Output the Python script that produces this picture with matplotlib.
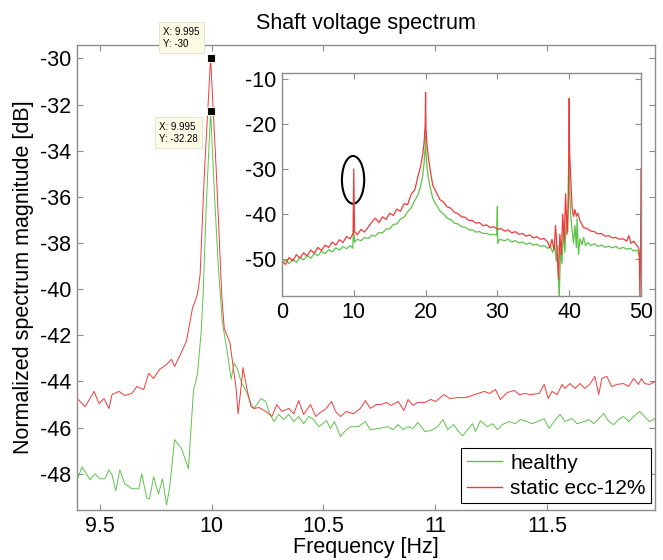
import matplotlib
matplotlib.use("Agg")
import matplotlib.pyplot as plt
from matplotlib.lines import Line2D
from matplotlib.patches import Ellipse

plt.rcParams['font.family'] = ['Liberation Sans', 'DejaVu Sans']
plt.rcParams['axes.unicode_minus'] = False

# zoomed view around 10 Hz: (frequency [Hz], magnitude [dB])
healthy_zoom = [
    (9.398, -48.26), (9.420, -47.70), (9.456, -48.26), (9.478, -48.00), (9.500, -48.22),
    (9.522, -48.22), (9.540, -47.83), (9.554, -48.04), (9.571, -48.74), (9.589, -47.83),
    (9.611, -48.43), (9.642, -48.65), (9.674, -48.65), (9.687, -48.00), (9.709, -49.04),
    (9.722, -49.09), (9.740, -48.13), (9.762, -48.87), (9.780, -48.22), (9.798, -49.35),
    (9.811, -48.65), (9.834, -46.52), (9.865, -46.91), (9.896, -47.78), (9.918, -44.43),
    (9.936, -43.70), (9.953, -41.83), (9.962, -40.10), (9.975, -36.50), (9.995, -32.28),
    (10.012, -35.80), (10.028, -38.80), (10.047, -41.40), (10.069, -42.70), (10.087, -43.90),
    (10.100, -43.20), (10.114, -43.43), (10.131, -44.00), (10.154, -44.43), (10.176, -44.96),
    (10.189, -45.17), (10.202, -45.00), (10.220, -44.74), (10.242, -44.87), (10.256, -45.30),
    (10.278, -45.74), (10.300, -45.43), (10.322, -45.65), (10.345, -45.43), (10.367, -45.74),
    (10.389, -45.52), (10.411, -45.83), (10.434, -45.52), (10.456, -45.65), (10.478, -45.96),
    (10.491, -45.87), (10.514, -45.70), (10.531, -46.04), (10.549, -45.74), (10.576, -46.39),
    (10.598, -46.13), (10.620, -45.96), (10.656, -45.96), (10.687, -45.74), (10.709, -46.09),
    (10.745, -46.04), (10.789, -45.96), (10.811, -46.09), (10.834, -45.87), (10.856, -46.09),
    (10.878, -45.96), (10.900, -46.04), (10.922, -45.78), (10.954, -46.17), (10.980, -46.13),
    (11.011, -45.96), (11.034, -45.65), (11.056, -46.09), (11.082, -45.87), (11.105, -46.17),
    (11.122, -46.35), (11.145, -46.09), (11.167, -45.83), (11.180, -46.17), (11.202, -45.70),
    (11.233, -45.96), (11.256, -45.83), (11.278, -46.09), (11.300, -45.87), (11.331, -45.74),
    (11.358, -45.83), (11.380, -45.65), (11.411, -45.74), (11.434, -45.83), (11.456, -45.74),
    (11.487, -45.61), (11.509, -46.04), (11.531, -45.74), (11.558, -45.43), (11.580, -45.74),
    (11.611, -45.61), (11.634, -45.83), (11.665, -45.74), (11.687, -45.65), (11.709, -45.83),
    (11.731, -45.61), (11.754, -45.39), (11.776, -45.74), (11.798, -45.87), (11.820, -45.65),
    (11.842, -45.52), (11.865, -45.74), (11.887, -45.52), (11.914, -45.30), (11.936, -45.52),
    (11.958, -45.74), (11.985, -45.60),
]
ecc_zoom = [
    (9.398, -44.74), (9.434, -45.09), (9.474, -44.43), (9.496, -44.96), (9.518, -44.74),
    (9.540, -45.17), (9.554, -44.57), (9.585, -44.43), (9.611, -44.61), (9.642, -44.52),
    (9.665, -44.22), (9.696, -44.35), (9.718, -43.65), (9.740, -43.87), (9.767, -43.48),
    (9.798, -43.26), (9.820, -43.04), (9.834, -43.35), (9.856, -42.91), (9.887, -42.26),
    (9.914, -40.83), (9.936, -40.22), (9.948, -39.40), (9.967, -35.00), (9.995, -30.00),
    (10.021, -35.00), (10.045, -40.30), (10.056, -41.70), (10.082, -42.35), (10.091, -43.00),
    (10.109, -44.30), (10.118, -45.40), (10.132, -44.20), (10.140, -43.40), (10.158, -44.35),
    (10.176, -45.10), (10.189, -45.17), (10.211, -45.13), (10.242, -45.30), (10.269, -45.52),
    (10.291, -45.00), (10.314, -45.30), (10.345, -45.17), (10.367, -45.40), (10.389, -44.83),
    (10.411, -45.43), (10.442, -45.00), (10.465, -45.52), (10.478, -45.40), (10.509, -45.20),
    (10.536, -44.87), (10.554, -45.30), (10.576, -45.52), (10.602, -45.30), (10.634, -45.40),
    (10.665, -45.17), (10.687, -44.83), (10.709, -45.17), (10.736, -45.00), (10.758, -45.00),
    (10.780, -44.91), (10.802, -45.04), (10.834, -44.87), (10.860, -45.26), (10.878, -44.78),
    (10.900, -45.04), (10.922, -44.91), (10.954, -44.91), (10.980, -44.78), (11.002, -44.87),
    (11.038, -44.57), (11.065, -44.74), (11.100, -44.70), (11.136, -44.70), (11.176, -44.57),
    (11.220, -44.43), (11.242, -44.52), (11.269, -44.35), (11.291, -44.78), (11.322, -44.48),
    (11.354, -44.39), (11.376, -44.57), (11.402, -44.52), (11.425, -44.57), (11.465, -44.52),
    (11.487, -44.13), (11.505, -44.74), (11.522, -44.43), (11.545, -44.57), (11.567, -44.13),
    (11.580, -44.30), (11.602, -44.09), (11.625, -44.30), (11.647, -44.09), (11.669, -44.30),
    (11.691, -44.13), (11.714, -43.78), (11.731, -44.57), (11.745, -43.87), (11.767, -43.78),
    (11.789, -44.22), (11.811, -44.13), (11.842, -44.09), (11.865, -44.22), (11.887, -43.87),
    (11.909, -44.13), (11.922, -43.87), (11.936, -44.09), (11.958, -44.13), (11.985, -44.00),
]

# full band 0-50 Hz for the inset
healthy_full = [
    (0, -51.0), (0.5, -50.2), (1, -51.0), (1.5, -50.0), (2, -50.7), (2.5, -49.6), (3, -50.2),
    (3.5, -49.2), (4, -49.8), (4.5, -48.8), (5, -49.2), (5.5, -48.3), (6, -48.8), (6.5, -47.9),
    (7, -48.4), (7.5, -47.5), (8, -48.0), (8.5, -47.2), (9, -47.7), (9.5, -47.0), (9.85, -47.6),
    (10, -42.8), (10.1, -46.2), (10.5, -45.6), (11, -45.9), (11.5, -45.2), (12, -45.4),
    (12.5, -44.7), (13, -44.9), (13.5, -44.1), (14, -44.2), (14.5, -43.3), (15, -43.3),
    (15.5, -42.3), (16, -42.2), (16.5, -41.1), (17, -40.7), (17.5, -39.5), (18, -38.6),
    (18.5, -37.0), (19, -35.5), (19.3, -33.8), (19.6, -31.5), (19.8, -28.5), (19.95, -25.0),
    (20, -21.5), (20.05, -26.0), (20.2, -29.5), (20.4, -32.0), (20.7, -34.5), (21, -36.5),
    (21.5, -38.0), (22, -39.3), (22.5, -40.0), (23, -40.9), (23.5, -41.2), (24, -42.0),
    (24.5, -42.2), (25, -42.8), (25.5, -42.9), (26, -43.5), (26.5, -43.5), (27, -44.0),
    (27.5, -43.9), (28, -44.3), (28.5, -44.3), (29, -44.6), (29.5, -44.5), (29.9, -44.7),
    (30, -38.3), (30.05, -46.5), (30.3, -45.6), (31, -45.9), (31.5, -45.6), (32, -46.2),
    (32.5, -45.9), (33, -46.4), (33.5, -46.2), (34, -46.7), (34.5, -46.4), (35, -46.9),
    (35.5, -46.7), (36, -47.2), (36.5, -47.0), (37, -47.6), (37.4, -47.3), (37.7, -48.5),
    (38, -46.8), (38.2, -50.5), (38.4, -47.0), (38.6, -59.0), (38.8, -48.0), (39.0, -51.0),
    (39.2, -44.0), (39.4, -48.5), (39.6, -41.5), (39.8, -44.0), (39.95, -33.0), (40, -28.0),
    (40.05, -34.0), (40.2, -40.0), (40.4, -43.5), (40.6, -46.5), (40.8, -42.5), (41.0, -47.5),
    (41.1, -41.0), (41.3, -49.0), (41.5, -45.5), (41.8, -46.8), (42, -45.2), (42.3, -47.0),
    (42.6, -46.3), (43, -47.0), (43.5, -46.6), (44, -47.2), (44.5, -46.9), (45, -47.4),
    (45.5, -47.1), (46, -47.5), (46.5, -47.2), (47, -47.7), (47.5, -47.4), (48, -47.8),
    (48.5, -47.6), (49, -48.2), (49.5, -48.0), (49.8, -49.5), (49.95, -48.5), (50, -40.5),
]
ecc_full = [
    (0, -23.0), (0.05, -50.5), (0.5, -51.2), (1, -49.6), (1.5, -50.4), (2, -49.0), (2.5, -49.8),
    (3, -48.6), (3.5, -49.3), (4, -48.0), (4.5, -48.7), (5, -47.4), (5.5, -48.1), (6, -46.9),
    (6.5, -47.4), (7, -46.2), (7.5, -46.9), (8, -45.7), (8.5, -46.3), (9, -45.0), (9.5, -45.5),
    (9.9, -44.3), (10, -30.0), (10.1, -43.8), (10.5, -44.6), (11, -43.4), (11.5, -44.0),
    (12, -42.9), (12.5, -41.8), (13, -40.9), (13.5, -41.9), (14, -40.6), (14.5, -41.2),
    (15, -39.8), (15.5, -40.3), (16, -38.9), (16.5, -39.4), (17, -37.7), (17.5, -37.9),
    (18, -35.6), (18.5, -34.6), (19, -31.2), (19.3, -29.5), (19.6, -26.8), (19.8, -24.0),
    (19.95, -20.0), (20, -13.0), (20.05, -21.0), (20.2, -24.5), (20.4, -27.5), (20.7, -30.8),
    (21, -33.6), (21.5, -35.2), (22, -36.8), (22.5, -37.3), (23, -38.4), (23.5, -38.7),
    (24, -39.6), (24.5, -39.9), (25, -40.6), (25.5, -40.7), (26, -41.4), (26.5, -41.4),
    (27, -42.0), (27.5, -41.9), (28, -42.6), (28.5, -42.4), (29, -43.0), (29.5, -42.8),
    (30, -43.4), (30.5, -43.2), (31, -43.8), (31.5, -43.5), (32, -44.2), (32.5, -43.9),
    (33, -44.5), (33.5, -44.3), (34, -44.9), (34.5, -44.6), (35, -45.3), (35.5, -45.0),
    (36, -45.6), (36.5, -45.4), (37, -46.2), (37.3, -47.5), (37.6, -45.6), (37.9, -48.0),
    (38.1, -42.5), (38.3, -47.8), (38.5, -54.5), (38.7, -44.5), (38.9, -49.0), (39.1, -40.0),
    (39.3, -46.0), (39.5, -35.5), (39.7, -44.5), (39.85, -38.0), (39.95, -25.0), (40, -14.3),
    (40.05, -26.0), (40.2, -31.5), (40.4, -38.5), (40.6, -40.5), (40.8, -39.0), (41, -40.5),
    (41.2, -39.8), (41.5, -41.5), (42, -43.0), (42.5, -43.2), (43, -43.8), (43.5, -43.9),
    (44, -44.4), (44.5, -44.3), (45, -44.9), (45.5, -44.8), (46, -45.3), (46.5, -45.2),
    (47, -45.6), (47.5, -45.5), (48, -46.0), (48.3, -44.8), (48.6, -46.5), (49, -46.0),
    (49.3, -46.8), (49.6, -47.3), (49.75, -48.0), (49.85, -58.5), (49.95, -48.5), (50, -30.0),
]

series_labels = ["healthy", "static ecc-12%"]
zoom_xticks = [9.5, 10, 10.5, 11, 11.5]
zoom_xticklabels = ["9.5", "10", "10.5", "11", "11.5"]
zoom_yticks = [-48, -46, -44, -42, -40, -38, -36, -34, -32, -30]
full_xticks = [0, 10, 20, 30, 40, 50]
full_yticks = [-50, -40, -30, -20, -10]
tip_points = [(9.995, -30.0), (9.995, -32.28)]

GREEN = "#5fc24a"
RED = "#f03a3a"
SPINE = "#8c8c8c"


def unzip(pairs):
    return [p[0] for p in pairs], [p[1] for p in pairs]


def style_axes(ax, size):
    for s in ax.spines.values():
        s.set_color(SPINE)
        s.set_linewidth(1.0)
    ax.tick_params(direction="in", top=True, right=True, length=4, width=0.8,
                   color=SPINE, labelsize=size, pad=4)


fig = plt.figure(figsize=(6.63, 5.6), dpi=100)
ax = fig.add_axes([0.116, 0.0893, 0.872, 0.830])

f, v = unzip(healthy_zoom)
ax.plot(f, v, color=GREEN, lw=0.7)
f, v = unzip(ecc_zoom)
ax.plot(f, v, color=RED, lw=0.7)

ax.set_xlim(9.397, 11.983)
ax.set_ylim(-49.57, -29.43)
ax.set_xticks(zoom_xticks)
ax.set_xticklabels(zoom_xticklabels)
ax.set_yticks(zoom_yticks)
ax.set_yticklabels([str(t) for t in zoom_yticks])
style_axes(ax, 15.5)
ax.set_title("Shaft voltage spectrum", fontsize=15.5, pad=12)
ax.set_xlabel("Frequency [Hz]", fontsize=15.5, labelpad=0)
ax.set_ylabel("Normalized spectrum magnitude [dB]", fontsize=15.5, labelpad=4)

# data tips
for (tx, ty), (bx, by) in zip(tip_points, [(9.782, -29.11), (9.764, -33.23)]):
    ax.plot([tx], [ty], marker="s", color="k", ms=5.5, mec="#f4f4e0", mew=0.8,
            zorder=6, clip_on=False)
    ax.text(bx, by, "X: %g\nY: %g" % (tx, ty), fontsize=7, ha="left", va="center",
            linespacing=1.3, zorder=7, clip_on=False,
            bbox=dict(boxstyle="square,pad=0.45", fc="#fbfbe6", ec="#e0e0c8", lw=0.6))

handles = [Line2D([], [], color=GREEN, lw=1.0), Line2D([], [], color=RED, lw=1.0)]
leg = ax.legend(handles, series_labels, loc="lower right",
                bbox_to_anchor=(0.993, 0.015), fontsize=15, frameon=True, fancybox=False,
                framealpha=1.0, handlelength=1.7, handletextpad=0.4, labelspacing=0.3,
                borderpad=0.25, borderaxespad=0.0)
leg.get_frame().set_edgecolor("k")
leg.get_frame().set_linewidth(0.8)

# inset with the whole band
ins = fig.add_axes([0.4253, 0.4714, 0.5415, 0.398])
f, v = unzip(healthy_full)
ins.plot(f, v, color=GREEN, lw=0.9)
f, v = unzip(ecc_full)
ins.plot(f, v, color=RED, lw=0.9)
ins.add_patch(Ellipse((9.9, -32.4), width=3.1, height=10.6, fill=False, ec="k", lw=1.5))
ins.set_xlim(0, 50)
ins.set_ylim(-58.2, -8.7)
ins.set_xticks(full_xticks)
ins.set_yticks(full_yticks)
ins.set_yticklabels([str(t) for t in full_yticks])
style_axes(ins, 15.5)

fig.savefig("out.png", dpi=100)
